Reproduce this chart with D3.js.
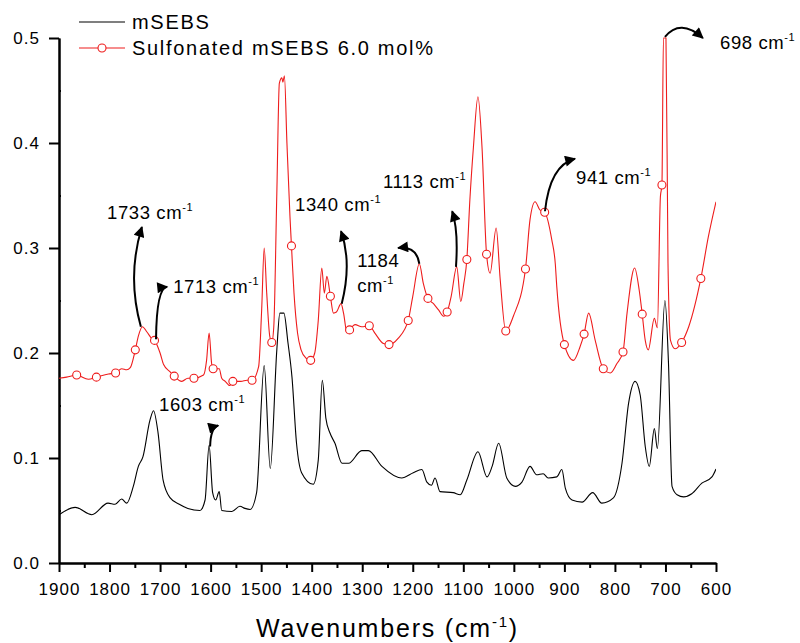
<!DOCTYPE html>
<html>
<head>
<meta charset="utf-8">
<script src="https://cdn.jsdelivr.net/npm/d3@7"></script>
<style>
body { margin: 0; background: #fff; }
svg text { font-family: Arial, "Liberation Sans", sans-serif; fill: #000; }
</style>
</head>
<body>
<div id="chart"></div>
<script>
// mSEBS spectrum [wavenumber, absorbance]
var msebs = [
  [1900, 0.046], [1868, 0.053], [1835, 0.046], [1803, 0.057], [1789, 0.056], [1776, 0.061],
  [1766, 0.057], [1753, 0.073], [1743, 0.092], [1734, 0.101], [1720, 0.136], [1713, 0.145],
  [1704, 0.124], [1694, 0.079], [1680, 0.062], [1662, 0.056], [1645, 0.052], [1621, 0.050],
  [1611, 0.060], [1603, 0.112], [1596, 0.067], [1590, 0.060], [1583, 0.068], [1578, 0.050],
  [1558, 0.049], [1542, 0.054], [1532, 0.052], [1522, 0.051], [1509, 0.067], [1494, 0.188],
  [1482, 0.090], [1469, 0.203], [1463, 0.238], [1455, 0.238], [1447, 0.210], [1439, 0.177],
  [1430, 0.114], [1420, 0.086], [1397, 0.075], [1387, 0.098], [1379, 0.174], [1372, 0.138],
  [1364, 0.124], [1354, 0.114], [1340, 0.095], [1327, 0.095], [1301, 0.107], [1288, 0.107],
  [1261, 0.092], [1222, 0.081], [1199, 0.086], [1182, 0.089], [1172, 0.077], [1163, 0.074],
  [1156, 0.081], [1146, 0.068], [1120, 0.067], [1106, 0.065], [1093, 0.079], [1071, 0.106],
  [1053, 0.082], [1043, 0.092], [1030, 0.114], [1014, 0.081], [997, 0.073], [984, 0.077],
  [968, 0.092], [955, 0.084], [942, 0.085], [932, 0.081], [915, 0.082], [905, 0.089],
  [898, 0.071], [885, 0.060], [865, 0.058], [844, 0.067], [826, 0.057], [803, 0.062],
  [786, 0.095], [773, 0.152], [760, 0.173], [750, 0.160], [740, 0.111], [732, 0.092],
  [722, 0.128], [716, 0.109], [701, 0.250], [694, 0.190], [687, 0.073], [677, 0.065],
  [664, 0.063], [648, 0.066], [628, 0.076], [608, 0.082], [600, 0.0895]
];

// Sulfonated mSEBS 6.0 mol% spectrum
var sulfonated = [
  [1900, 0.176], [1885, 0.177], [1865, 0.179], [1842, 0.175], [1826, 0.177], [1802, 0.180],
  [1788, 0.181], [1776, 0.185], [1766, 0.184], [1759, 0.186], [1749, 0.203], [1743, 0.216],
  [1735, 0.225], [1726, 0.220], [1717, 0.214], [1711, 0.212], [1700, 0.200], [1693, 0.189],
  [1680, 0.182], [1672, 0.178], [1657, 0.173], [1645, 0.176], [1633, 0.176], [1614, 0.179],
  [1608, 0.193], [1603, 0.219], [1598, 0.190], [1595, 0.185], [1583, 0.185], [1578, 0.176],
  [1571, 0.173], [1562, 0.169], [1556, 0.173], [1540, 0.173], [1528, 0.174], [1518, 0.174],
  [1505, 0.187], [1499, 0.241], [1494, 0.300], [1489, 0.257], [1483, 0.216], [1479, 0.210],
  [1475, 0.225], [1469, 0.352], [1464, 0.457], [1459, 0.462], [1457, 0.458], [1454, 0.464],
  [1449, 0.400], [1443, 0.330], [1440, 0.302], [1435, 0.257], [1428, 0.219], [1421, 0.203],
  [1411, 0.195], [1402, 0.193], [1394, 0.200], [1387, 0.231], [1380, 0.281], [1375, 0.257],
  [1370, 0.273], [1363, 0.254], [1357, 0.238], [1351, 0.239], [1342, 0.247], [1337, 0.238],
  [1330, 0.219], [1325, 0.222], [1314, 0.227], [1301, 0.225], [1286, 0.226], [1275, 0.219],
  [1258, 0.209], [1247, 0.208], [1229, 0.214], [1209, 0.231], [1200, 0.254], [1187, 0.285],
  [1179, 0.266], [1170, 0.252], [1159, 0.247], [1149, 0.241], [1139, 0.235], [1132, 0.239],
  [1124, 0.254], [1113, 0.282], [1105, 0.249], [1099, 0.266], [1093, 0.289], [1087, 0.346],
  [1080, 0.396], [1071, 0.444], [1063, 0.396], [1054, 0.294], [1047, 0.276], [1035, 0.319],
  [1027, 0.270], [1016, 0.221], [1001, 0.235], [977, 0.280], [968, 0.327], [958, 0.344],
  [948, 0.336], [939, 0.334], [925, 0.308], [918, 0.285], [915, 0.263], [900, 0.208],
  [882, 0.193], [869, 0.206], [861, 0.218], [852, 0.238], [839, 0.212], [823, 0.185],
  [809, 0.181], [796, 0.190], [784, 0.201], [776, 0.238], [761, 0.281], [752, 0.260],
  [746, 0.237], [740, 0.212], [734, 0.203], [722, 0.233], [716, 0.224], [710, 0.349],
  [707, 0.360], [704, 0.500], [699, 0.500], [695, 0.286], [690, 0.212], [681, 0.204],
  [668, 0.210], [654, 0.225], [630, 0.271], [615, 0.311], [600, 0.344]
];

// wavenumbers carrying an open-circle symbol
var sulfonatedMarkers = [1865, 1826, 1788, 1749, 1711, 1672, 1633, 1595, 1556, 1518, 1479, 1440,
  1402, 1363, 1325, 1286, 1247, 1209, 1170, 1132, 1093, 1054, 1016, 977, 939, 900, 861, 823,
  784, 746, 707, 668, 630];

var xTicks = [1900, 1800, 1700, 1600, 1500, 1400, 1300, 1200, 1100, 1000, 900, 800, 700, 600];
var xMinorTicks = [1850, 1750, 1650, 1550, 1450, 1350, 1250, 1150, 1050, 950, 850, 750, 650];
var yTicks = [0.0, 0.1, 0.2, 0.3, 0.4, 0.5];
var yMinorTicks = [0.05, 0.15, 0.25, 0.35, 0.45];

var seriesNames = ["mSEBS", "Sulfonated mSEBS 6.0 mol%"];

// peak labels: label, text anchor [wn, abs], arrow start, bend, tip
var peakLabels = ["1733", "1713", "1603", "1340", "1184", "1113", "941", "698"];
var labelAt = [[1805, 0.328], [1674, 0.257], [1702, 0.145], [1433, 0.335], [1310, 0.282], [1259, 0.357], [877, 0.361], [592, 0.4895]];
var arrowFrom = [[1738, 0.225], [1708, 0.213], [1601, 0.111], [1340.6, 0.247], [1187, 0.285], [1114.5, 0.282], [938.4, 0.335], [701, 0.501]];
var arrowBend = [[1766, 0.273], [1707, 0.262], [1600, 0.129], [1320, 0.286], [1192, 0.302], [1109.5, 0.317], [928.5, 0.379], [671, 0.519]];
var arrowTo = [[1736, 0.320], [1686, 0.263], [1585, 0.131], [1342, 0.316], [1229, 0.300], [1122, 0.335], [879, 0.385], [626, 0.500]];

var red = "#ee1c1c";

var svg = d3.select("#chart").append("svg")
  .attr("width", 800)
  .attr("height", 643);

var x = d3.scaleLinear().domain([1900, 600]).range([59, 716]);
var y = d3.scaleLinear().domain([0, 0.5]).range([563, 38]);

svg.append("defs").append("clipPath").attr("id", "plot")
  .append("rect")
  .attr("x", x(1900)).attr("y", y(0.5) - 1)
  .attr("width", x(600) - x(1900)).attr("height", y(0) - y(0.5) + 1);

var marker = svg.select("defs").append("marker")
  .attr("id", "head")
  .attr("viewBox", "0 0 10 10")
  .attr("refX", 9).attr("refY", 5)
  .attr("markerWidth", 15).attr("markerHeight", 11)
  .attr("markerUnits", "userSpaceOnUse")
  .attr("orient", "auto");
marker.append("path").attr("d", "M0,0 L10,5 L0,10 Z").attr("fill", "#000");

// axes
var xAxis = d3.axisBottom(x).tickValues(xTicks).tickSize(9).tickSizeOuter(0).tickPadding(11)
  .tickFormat(d3.format("d"));
svg.append("g").attr("transform", "translate(0," + y(0) + ")").call(xAxis);
svg.append("g").attr("transform", "translate(0," + y(0) + ")")
  .call(d3.axisBottom(x).tickValues(xMinorTicks).tickSize(5).tickSizeOuter(0).tickFormat(""));

var yAxis = d3.axisLeft(y).tickValues(yTicks).tickSize(10).tickSizeOuter(0).tickPadding(9)
  .tickFormat(d3.format(".1f"));
svg.append("g").attr("transform", "translate(" + x(1900) + ",0)").call(yAxis);
svg.append("g").attr("transform", "translate(" + x(1900) + ",0)")
  .call(d3.axisRight(y).tickValues(yMinorTicks).tickSize(2).tickSizeOuter(0).tickFormat(""));

svg.selectAll(".domain, .tick line").attr("stroke", "#000").attr("stroke-width", 2);
svg.selectAll(".tick text")
  .attr("font-family", "Arial, 'Liberation Sans', sans-serif")
  .style("font-size", "17px")
  .style("letter-spacing", "1px")
  .attr("fill", "#000");

// axis title
var title = svg.append("text")
  .attr("x", (x(1900) + x(600)) / 2)
  .attr("y", 637)
  .attr("text-anchor", "middle")
  .style("font-size", "25px")
  .style("letter-spacing", "1.8px");
title.append("tspan").text("Wavenumbers (cm");
title.append("tspan").attr("dy", -10).style("font-size", "15px").text("-1");
title.append("tspan").attr("dy", 10).text(")");

// curves
var line = d3.line()
  .x(function (d) { return x(d[0]); })
  .y(function (d) { return y(d[1]); })
  .curve(d3.curveMonotoneX);

var plot = svg.append("g").attr("clip-path", "url(#plot)");

plot.append("path")
  .datum(msebs)
  .attr("fill", "none")
  .attr("stroke", "#000")
  .attr("stroke-width", 1.1)
  .attr("d", line);

plot.append("path")
  .datum(sulfonated)
  .attr("fill", "none")
  .attr("stroke", red)
  .attr("stroke-width", 1.1)
  .attr("d", line);

var markerPts = sulfonated.filter(function (d) { return sulfonatedMarkers.indexOf(d[0]) >= 0; });
plot.selectAll("circle.sym")
  .data(markerPts)
  .join("circle")
  .attr("class", "sym")
  .attr("cx", function (d) { return x(d[0]); })
  .attr("cy", function (d) { return y(d[1]); })
  .attr("r", 4)
  .attr("fill", "#fff")
  .attr("stroke", red)
  .attr("stroke-width", 1.1);

// peak annotations
var ann = svg.append("g");
peakLabels.forEach(function (lbl, i) {
  var p = d3.path();
  p.moveTo(x(arrowFrom[i][0]), y(arrowFrom[i][1]));
  p.quadraticCurveTo(x(arrowBend[i][0]), y(arrowBend[i][1]), x(arrowTo[i][0]), y(arrowTo[i][1]));
  ann.append("path")
    .attr("d", p.toString())
    .attr("fill", "none")
    .attr("stroke", "#000")
    .attr("stroke-width", 2)
    .attr("marker-end", "url(#head)");

  var t = ann.append("text")
    .attr("x", x(labelAt[i][0]))
    .attr("y", y(labelAt[i][1]))
    .style("font-size", "18.5px")
    .style("letter-spacing", "0.6px");
  if (lbl === "1184") {
    t.text(lbl);
    var t2 = ann.append("text")
      .attr("x", x(labelAt[i][0]))
      .attr("y", y(labelAt[i][1]) + 25)
      .style("font-size", "18.5px")
      .style("letter-spacing", "0.6px");
    t2.append("tspan").text("cm");
    t2.append("tspan").attr("dy", -8).style("font-size", "11px").text("-1");
  } else {
    t.append("tspan").text(lbl + " cm");
    t.append("tspan").attr("dy", -8).style("font-size", "11px").text("-1");
  }
});

// legend
var legend = svg.append("g");
legend.append("line").attr("x1", 79).attr("x2", 125).attr("y1", 22).attr("y2", 22)
  .attr("stroke", "#000").attr("stroke-width", 1.1);
legend.append("line").attr("x1", 79).attr("x2", 125).attr("y1", 48).attr("y2", 48)
  .attr("stroke", red).attr("stroke-width", 1.1);
legend.append("circle").attr("cx", 102).attr("cy", 48).attr("r", 4)
  .attr("fill", "#fff").attr("stroke", red).attr("stroke-width", 1.1);
legend.selectAll("text.leg")
  .data(seriesNames)
  .join("text")
  .attr("class", "leg")
  .attr("x", 132)
  .attr("y", function (d, i) { return 29 + i * 26; })
  .style("font-size", "20px")
  .style("letter-spacing", "1.7px")
  .text(function (d) { return d; });
</script>
</body>
</html>
